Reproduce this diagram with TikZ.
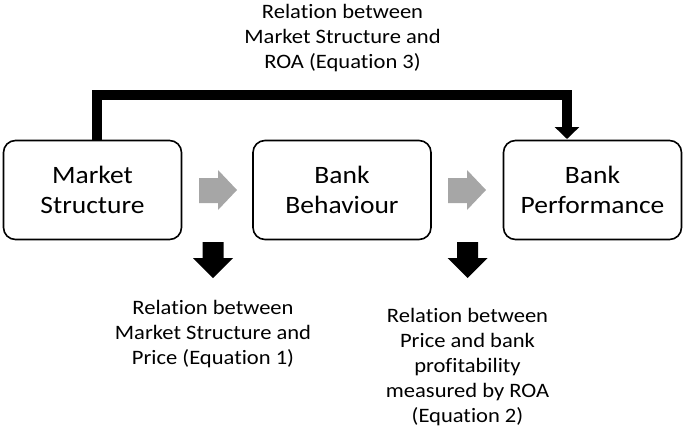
\documentclass[tikz,border=0pt]{standalone}
\usepackage{fontspec}
\setmainfont{Carlito}[FakeStretch=1.1, Ligatures=NoCommon]
\usetikzlibrary{arrows.meta}
\tikzset{
  stagebox/.style={draw, line width=1.6pt, rounded corners=12pt, minimum width=178pt, minimum height=99pt, align=center, inner sep=0pt, font=\fontsize{25}{30}\selectfont},
  labeltext/.style={align=center, inner sep=0pt, font=\fontsize{20.5}{25}\selectfont},
  grayarrow/.style={fill=black!35},
  blackarrow/.style={fill=black},
  bigline/.style={line width=10.5pt, line join=miter, -{Triangle[width=24pt,length=12pt]}}
}
\begin{document}
\begin{tikzpicture}[x=1pt,y=-1pt]
\useasboundingbox (0,0) rectangle (685,431);
\node[stagebox] (ms) at (92.5,190) {Market\\Structure};
\node[stagebox] (bb) at (342,190) {Bank\\Behaviour};
\node[stagebox] (bp) at (592.5,190) {Bank\\Performance};

\node[labeltext] (top) at (342.5,38) {Relation between\\Market Structure and\\ROA (Equation 3)};
\node[labeltext] (eq1) at (213,334) {Relation between\\Market Structure and\\Price (Equation 1)};
\node[labeltext] (eq2) at (467.5,367) {Relation between\\Price and bank\\profitability\\measured by ROA\\(Equation 2)};

% gray block arrows
\fill[grayarrow] (199,178) -- (218,178) -- (218,170) -- (237,190) -- (218,210) -- (218,203) -- (199,203) -- cycle;
\fill[grayarrow] (448,178) -- (467,178) -- (467,170) -- (486,190) -- (467,210) -- (467,203) -- (448,203) -- cycle;

% black down arrows
\fill[blackarrow] (202.5,242) -- (223.5,242) -- (223.5,258) -- (233,258) -- (213,278) -- (193,258) -- (202.5,258) -- cycle;
\fill[blackarrow] (457,242) -- (478,242) -- (478,258) -- (487.5,258) -- (467.5,278) -- (447.5,258) -- (457,258) -- cycle;

% top connector
\coordinate (s) at (97,140);
\coordinate (t) at (567,139);
\draw[bigline] (s) -- ++(0,-45) -| (t);
\end{tikzpicture}
\end{document}
